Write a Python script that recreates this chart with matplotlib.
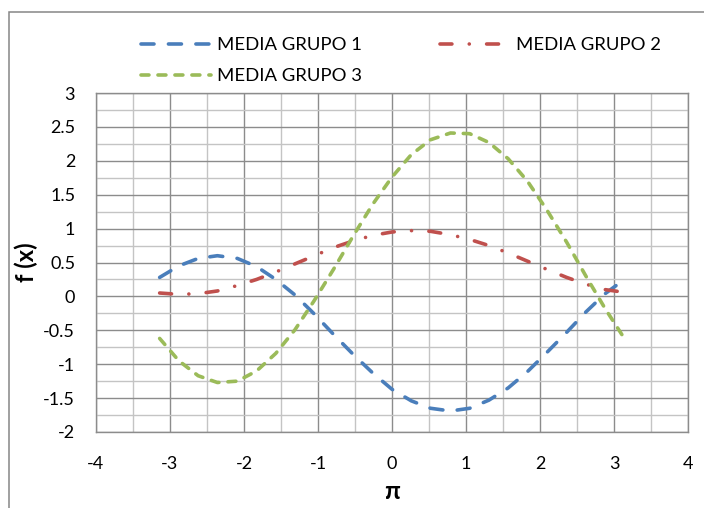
import matplotlib
matplotlib.use("Agg")
import matplotlib.pyplot as plt
from matplotlib.patches import Rectangle
from matplotlib.ticker import MultipleLocator

plt.rcParams['font.family'] = ['Lato', 'DejaVu Sans']

# x values (radians, -pi .. pi)
x = [-3.14, -2.88, -2.62, -2.36, -2.09, -1.83, -1.57, -1.31, -1.05, -0.79, -0.52, -0.26,
     0.0, 0.26, 0.52, 0.79, 1.05, 1.31, 1.57, 1.83, 2.09, 2.36, 2.62, 2.88, 3.14]

grupo1 = [0.28, 0.45, 0.56, 0.60, 0.56, 0.44, 0.25, 0.02, -0.26, -0.56, -0.86, -1.13,
          -1.37, -1.54, -1.65, -1.69, -1.65, -1.53, -1.35, -1.11, -0.83, -0.53, -0.23, 0.04, 0.25]

grupo2 = [0.05, 0.03, 0.04, 0.08, 0.16, 0.25, 0.36, 0.48, 0.60, 0.72, 0.82, 0.90,
          0.95, 0.97, 0.96, 0.91, 0.84, 0.75, 0.64, 0.52, 0.40, 0.28, 0.18, 0.10, 0.06]

grupo3 = [-0.62, -0.95, -1.17, -1.27, -1.25, -1.10, -0.84, -0.49, -0.06, 0.40, 0.90, 1.36,
          1.76, 2.09, 2.31, 2.41, 2.40, 2.27, 2.03, 1.70, 1.28, 0.80, 0.30, -0.18, -0.62]

labels = ["MEDIA GRUPO 1", "MEDIA GRUPO 2", "MEDIA GRUPO 3"]
colors = ["#4A7EBB", "#C0504D", "#9BBB59"]
xticks = [-4, -3, -2, -1, 0, 1, 2, 3, 4]
yticks = [-2, -1.5, -1, -0.5, 0, 0.5, 1, 1.5, 2, 2.5, 3]

W, H = 704, 508
fig = plt.figure(figsize=(W / 100, H / 100), dpi=100)
fig.patch.set_facecolor("white")

# outer chart border
fig.add_artist(Rectangle((8.5 / W, -0.1), 1.2, 1 - 11.7 / H + 0.1,
                         transform=fig.transFigure, fill=False,
                         edgecolor="#868686", linewidth=1.1))

ax = fig.add_axes([96 / W, 1 - 432 / H, (688 - 96) / W, (432 - 93) / H])

lw = 2.6
l1, = ax.plot(x, grupo1, color=colors[0], lw=lw, linestyle=(0, (3.6, 4.0)),
              dash_capstyle="round", label=labels[0], zorder=3)
l2, = ax.plot(x, grupo2, color=colors[1], lw=lw, linestyle=(0, (3.3, 4.8, 0.01, 4.8)),
              dash_capstyle="round", label=labels[1], zorder=3)
l3, = ax.plot(x, grupo3, color=colors[2], lw=lw, linestyle=(0, (2.2, 2.5)),
              dash_capstyle="round", label=labels[2], zorder=3)

ax.set_xlim(-4, 4)
ax.set_ylim(-2, 3)
ax.xaxis.set_minor_locator(MultipleLocator(0.5))
ax.yaxis.set_minor_locator(MultipleLocator(0.25))

ax.grid(which="minor", color="#C4C4C4", linewidth=1.0, zorder=0)
ax.grid(which="major", color="#8C8C8C", linewidth=1.0, zorder=1)
ax.set_axisbelow(True)

for s in ax.spines.values():
    s.set_color("#8C8C8C")
    s.set_linewidth(1.0)

ax.tick_params(which="both", length=0)
ax.tick_params(axis="y", pad=15, labelsize=13)
ax.tick_params(axis="x", pad=17, labelsize=13)

ax.set_xticks(xticks)
ax.set_xticklabels(["%g" % v for v in xticks])
ax.set_yticks(yticks)
ax.set_yticklabels(["%g" % v for v in yticks])

ax.set_xlabel("π", fontsize=18, fontweight="bold", labelpad=6)
ax.set_ylabel("f (x)", fontsize=17, fontweight="bold", labelpad=4)

leg = fig.legend([l1, l3, l2], [labels[0], labels[2], labels[1]], ncol=2,
                 loc="upper left", bbox_to_anchor=(141 / W, 1 - 37 / H),
                 frameon=False, fontsize=13.3, handlelength=3.8, handletextpad=0.33,
                 columnspacing=4.2, labelspacing=0.82, borderaxespad=0, borderpad=0)

fig.savefig("out.png", dpi=100, facecolor="white")
